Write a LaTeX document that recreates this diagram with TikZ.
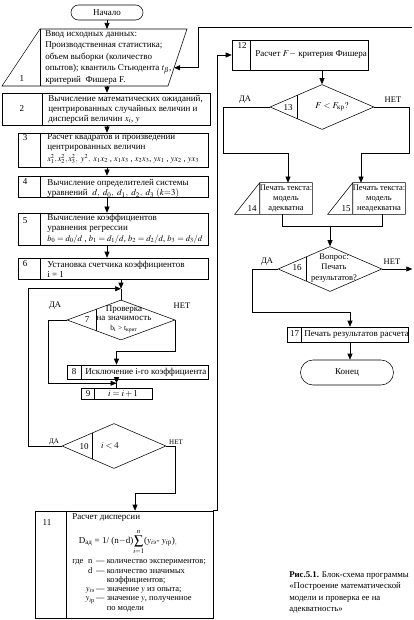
\documentclass[tikz,border=0pt]{standalone}
\usepackage{mathptmx}
\usepackage{amsmath}
\usepackage{fontspec}
\setmainfont{Liberation Serif}
\usetikzlibrary{calc,shapes.geometric,arrows.meta}
\def\colline#1#2{\draw ($(#1.north west)+(#2,0)$) -- ($(#1.south west)+(#2,0)$);}

\begin{document}
\begin{tikzpicture}[x=1pt,y=-1pt,line width=0.55pt,
  blk/.style={draw,rectangle,inner sep=0pt},
  dec/.style={draw,diamond,inner sep=0pt,minimum width=104pt,minimum height=45pt},
  term/.style={draw,rectangle,rounded corners=#1,inner sep=0pt,font=\fontsize{9}{10}\selectfont},
  txt/.style={inner sep=0pt,anchor=north west,align=left,font=\fontsize{9}{10}\selectfont},
  num/.style={inner sep=0pt,font=\fontsize{9}{10}\selectfont},
  lbl/.style={inner sep=0pt,font=\fontsize{8.5}{10}\selectfont},
  arr/.style={-{Triangle[length=6pt,width=5pt]}}]
\useasboundingbox (0,0) rectangle (414,620);

\node[term=7.5pt,minimum width=72pt,minimum height=15pt] (start) at (107,12.5) {Начало};

% 1
\coordinate (p1) at (40,29);
\coordinate (p2) at (187,29);
\coordinate (p3) at (168,86);
\coordinate (p4) at (2,86);
\draw (p1) -- (p2) -- (p3) -- (p4) -- cycle;
\draw (p1) -- (p1 |- p4);
\node[num] at (22,79) {1};
\node[txt,font=\fontsize{9}{11.5}\selectfont] at (45,30) {Ввод исходных данных:\\ Производственная статистика;\\ объем выборки (количество\\ опытов); квантиль Стьюдента $t_\beta$,\\ критерий\ \ Фишера F.};
\coordinate (b1n) at (107,29);
\coordinate (b1s) at (107,86);
\coordinate (b1in) at ($(p2)!0.68!(p3)$);

% 2
\node[blk,minimum width=208pt,minimum height=32pt] (b2) at (106,109) {};
\colline{b2}{41}
\node[num] at (22,109) {2};
\node[txt] at (48,95) {Вычисление математических ожиданий,\\ центрированных случайных величин и\\ дисперсий величин $x_i$, $y$};

% 3
\node[blk,minimum width=190pt,minimum height=34pt] (b3) at (113,150) {};
\colline{b3}{23}
\node[num] at (25,138) {3};
\node[txt] at (47,133) {Расчет квадратов и произведений\\ центрированных величин\\[2pt] {\fontsize{8.3}{9}\selectfont$x_1^2,x_2^2,x_3^2,\ y^2,\ x_1x_2$ , $x_1x_3$ , $x_2x_3$, $yx_1$ , $yx_2$ , $yx_3$}};

% 4
\node[blk,minimum width=190pt,minimum height=21pt] (b4) at (113,186.5) {};
\colline{b4}{23}
\node[num] at (25,182) {4};
\node[txt] at (47,179) {Вычисление определителей системы\\ уравнений\ \ $d,\ d_0,\ d_1,\ d_2,\ d_3$ $(k{=}3)$};

% 5
\node[blk,minimum width=190pt,minimum height=32pt] (b5) at (113,229) {};
\colline{b5}{23}
\node[num] at (25,221) {5};
\node[txt] at (47,214) {Вычисление коэффициентов\\ уравнения регрессии\\[1pt] {\fontsize{8.5}{9}\selectfont$b_0 = d_0/d$ , $b_1 = d_1/d$, $b_2 = d_2/d$, $b_3 = d_3/d$}};

% 6
\node[blk,minimum width=190pt,minimum height=21pt] (b6) at (113,268.5) {};
\colline{b6}{23}
\node[num] at (25,264) {6};
\node[txt] at (47,261) {Установка счетчика коэффициентов\\ i = 1};

% 7
\node[dec,minimum width=108pt,minimum height=40pt] (d7) at (121,320) {};
\draw ($(d7.north)!0.45!(d7.west)$) -- ($(d7.south)!0.45!(d7.west)$);
\node[num] at (87,320) {7};
\node[align=center,inner sep=0pt,font=\fontsize{9}{9.5}\selectfont] at (124,319) {Проверка\\ на значимость\\ {\fontsize{7.5}{8}\selectfont b$_\mathrm{i}$ > t$_{\text{крит}}$}};

% 8
\node[blk,minimum width=141pt,minimum height=14pt] (b8) at (137.5,372) {};
\colline{b8}{15}
\node[num] at (74,372) {8};
\node[txt,anchor=west] at (85,372) {Исключение i-го коэффициента};

% 9
\node[blk,minimum width=71pt,minimum height=11pt] (b9) at (116.5,394) {};
\colline{b9}{14}
\node[num] at (88,394) {9};
\node[num] at (123,394) {$i = i + 1$};

% 10
\node[dec] (d10) at (114,446) {};
\draw ($(d10.north)!0.42!(d10.west)$) -- ($(d10.south)!0.42!(d10.west)$);
\node[num] at (84,447) {10};
\node[num] at (110,446) {$i < 4$};

% 11
\node[blk,minimum width=178pt,minimum height=107pt] (b11) at (124,564.5) {};
\colline{b11}{32}
\node[num] at (47,523) {11};
\node[txt] at (72,513) {Расчет дисперсии};
\node[num] at (128,542) {D$_{\text{ад}}$ = 1/ (n$-$d)$\displaystyle\sum_{i=1}^{n}$($y_{i\text{э}}$- $y_{i\text{р}}$)$_{,}$};
\node[txt,font=\fontsize{8.5}{9.3}\selectfont] at (72,557) {\begin{tabular}{@{}l@{\ }c@{\,}l@{}}
где & n & — количество экспериментов;\\
 & d & — количество значимых\\
 & & \phantom{— }коэффициентов;\\
 & $y_{i\text{э}}$ & — значение $y$ из опыта;\\
 & $y_{i\text{р}}$ & — значение $y$, полученное\\
 & & \phantom{— }по модели
\end{tabular}};

% 12
\node[blk,minimum width=136pt,minimum height=30pt] (b12) at (300,55) {};
\colline{b12}{19}
\node[num,anchor=north] at (242,42) {12};
\node[txt,anchor=west] at (255,55) {Расчет $F -$ критерия Фишера};

% 13
\node[dec] (d13) at (322,107) {};
\draw ($(d13.north)!0.48!(d13.west)$) -- ($(d13.south)!0.48!(d13.west)$);
\node[num] at (288,108) {13};
\node[num] at (332,107) {$F < F_{\text{кр}}?$};

% 14
\node[inner sep=0pt,minimum width=52pt,minimum height=31pt] (b14) at (286,198.5) {};
\draw (b14.south west) -- (b14.north west) -- (b14.north east) -- (b14.south east) -- ($(b14.south west)+(-25,0)$) -- (b14.north west);
\node[num] at (252,209) {14};
\node[align=center,inner sep=0pt,font=\fontsize{8.5}{10}\selectfont] at (286,199) {Печать текста:\\ модель\\ адекватна};

% 15
\node[inner sep=0pt,minimum width=52pt,minimum height=31pt] (b15) at (379,198.5) {};
\draw (b15.south west) -- (b15.north west) -- (b15.north east) -- (b15.south east) -- ($(b15.south west)+(-25,0)$) -- (b15.north west);
\node[num] at (346,209) {15};
\node[align=center,inner sep=0pt,font=\fontsize{8.5}{10}\selectfont] at (379,199) {Печать текста:\\ модель\\ неадекватна};

% 16
\node[dec] (d16) at (330,269) {};
\draw ($(d16.north)!0.46!(d16.west)$) -- ($(d16.south)!0.46!(d16.west)$);
\node[num] at (297,268) {16};
\node[align=center,inner sep=0pt,font=\fontsize{8.5}{10.5}\selectfont] at (334,268) {Вопрос:\\ Печать\\ результатов?};

% 17
\node[blk,minimum width=121pt,minimum height=15pt] (b17) at (347.5,334.5) {};
\colline{b17}{15}
\node[num] at (294.5,334) {17};
\node[txt,anchor=west] at (304,335) {Печать результатов расчета};

\node[term=12.5pt,minimum width=93pt,minimum height=25pt] (stop) at (347,372.5) {Конец};

\node[txt,font=\fontsize{8.8}{11.6}\selectfont] (cap) at (289,571) {\textbf{Рис.5.1.} Блок-схема программы\\ «Построение математической\\ модели и проверка ее на\\ адекватность»};

% connectors
\coordinate (col) at (107,0);
\draw[arr] (start.south) -- (b1n);
\draw[arr] (b1s) -- (b1s |- b2.north);
\draw[arr] (col |- b2.south) -- (col |- b3.north);
\draw[arr] (col |- b3.south) -- (col |- b4.north);
\draw[arr] (col |- b4.south) -- (col |- b5.north);
\draw[arr] (col |- b5.south) -- (col |- b6.north);

\path (d7.north) ++(0,-11) coordinate (j7);
\draw[arr] (b6.south -| j7) -- (j7);
\draw[arr] (d10.west) -- ++(-33,0) |- (j7);
\draw (j7) -- (d7.north);

\path (b9.north) ++(0,-5) coordinate (j9);
\draw[arr] (d7.west) -- ++(-18,0) |- (j9);
\draw[arr] (b8.south -| j9) -- (j9);
\draw (j9) -- (b9.north);
\path (b8.north -| j9) ++(0,-13) coordinate (k8);
\draw[arr] (d7.east) |- (k8) -- (b8.north -| k8);

\coordinate (k11) at (135,493);
\draw[arr] (d10.east) -- ++(9,0) |- (k11) -- (k11 |- b11.north);
\draw[arr] (b11.north east) -- ++(4,0) |- (b12.west);
\draw[arr] (b12.south -| d13.north) -- (d13.north);

\coordinate (k14) at (288,153);
\coordinate (k15) at (361,153);
\draw[arr] (d13.west) -- ++(-46,0) |- (k14) -- (k14 |- b14.north);
\draw[arr] (d13.east) -- ++(35,0) |- (k15) -- (k15 |- b15.north);
\path (d16.north) ++(0,-20) coordinate (m16);
\draw ($(b14.south)+(-4,0)$) |- (m16) -| ($(b15.south)+(3,0)$);
\draw[arr] (m16) -- (d16.north);

\draw[arr] (d16.east) -- ++(30,0);
\coordinate (k17) at (350,312);
\draw[arr] (d16.west) -- ++(-25,0) |- (k17) -- (k17 |- b17.north);
\draw[arr] (b17.south -| k17) -- (k17 |- stop.north);

\coordinate (back) at (412,27);
\draw[arr] (back) -- (198,27) |- (b1in);

% labels
\node[lbl] at (55,306) {ДА};
\node[lbl] at (182,306) {НЕТ};
\node[lbl,font=\fontsize{7}{8}\selectfont] at (54,442) {ДА};
\node[lbl,font=\fontsize{7}{8}\selectfont] at (176,442) {НЕТ};
\node[lbl] at (245,100) {ДА};
\node[lbl] at (393,100) {НЕТ};
\node[lbl] at (267,262) {ДА};
\node[lbl] at (392,262) {НЕТ};
\end{tikzpicture}
\end{document}
